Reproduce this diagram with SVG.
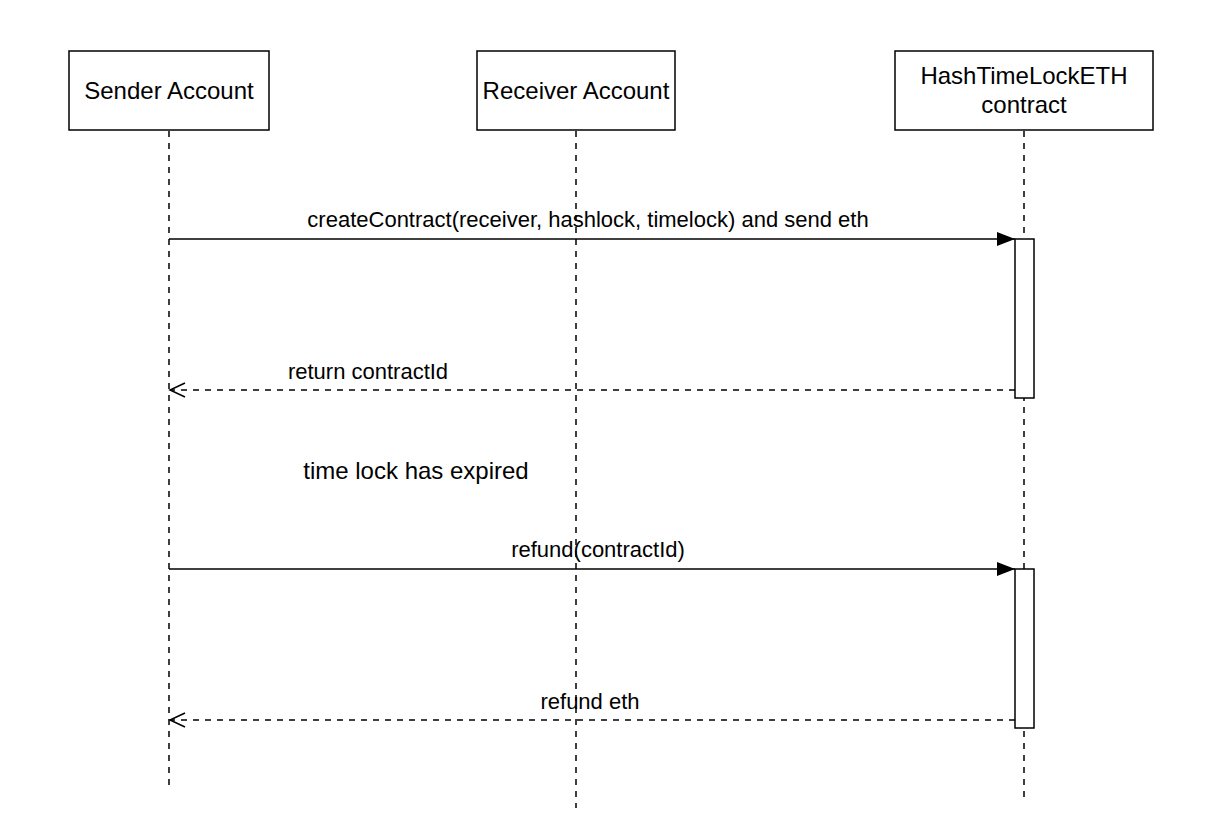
<svg xmlns="http://www.w3.org/2000/svg" width="1208" height="830" viewBox="0 0 1208 830">
<style>
.box{fill:#fff;stroke:#000;stroke-width:1.5}
.life{stroke:#000;stroke-width:1.5;stroke-dasharray:6 6;fill:none}
.msg{stroke:#000;stroke-width:1.5;fill:none}
.ret{stroke:#000;stroke-width:1.5;fill:none;stroke-dasharray:6 6}
.t{font-family:"Liberation Sans",Arial,sans-serif;font-size:24px;fill:#000;text-anchor:middle}
.l{font-family:"Liberation Sans",Arial,sans-serif;font-size:22px;fill:#000;text-anchor:middle}
</style>
<defs>
<marker id="fill" markerWidth="20" markerHeight="16" refX="18" refY="7" orient="auto" markerUnits="userSpaceOnUse">
<path d="M0,0 L18,7 L0,14 Z" fill="#000"/>
</marker>
<marker id="open" markerWidth="20" markerHeight="18" refX="16" refY="8" orient="auto" markerUnits="userSpaceOnUse">
<path d="M1,1 L16,8 L1,15" fill="none" stroke="#000" stroke-width="1.5"/>
</marker>
</defs>
<rect width="1208" height="830" fill="#fff"/>
<g id="lifelines">
<line class="life" x1="169" y1="131" x2="169" y2="786"/>
<line class="life" x1="576" y1="131" x2="576" y2="808"/>
<line class="life" x1="1024" y1="131" x2="1024" y2="798"/>
</g>
<g id="sender">
<rect class="box" x="69" y="51" width="200" height="79"/>
<text class="t" x="169" y="99">Sender Account</text>
</g>
<g id="receiver">
<rect class="box" x="477" y="51" width="198" height="79"/>
<text class="t" x="576" y="99">Receiver Account</text>
</g>
<g id="contract">
<rect class="box" x="895" y="51" width="258" height="79"/>
<text class="t" x="1024" y="84">HashTimeLockETH</text>
<text class="t" x="1024" y="113">contract</text>
</g>
<g id="activation1">
<rect class="box" x="1015" y="239" width="19" height="159"/>
</g>
<g id="activation2">
<rect class="box" x="1015" y="569" width="19" height="159"/>
</g>
<g id="connectors">
<line class="msg" x1="169" y1="239" x2="1015" y2="239" marker-end="url(#fill)"/>
<line class="ret" x1="1015" y1="390" x2="170" y2="390" marker-end="url(#open)"/>
<line class="msg" x1="169" y1="569" x2="1015" y2="569" marker-end="url(#fill)"/>
<line class="ret" x1="1015" y1="720" x2="170" y2="720" marker-end="url(#open)"/>
</g>
<g id="labels">
<text class="l" x="588" y="227">createContract(receiver, hashlock, timelock) and send eth</text>
<text class="l" x="368" y="379">return contractId</text>
<text class="l" x="598" y="557">refund(contractId)</text>
<text class="l" x="590" y="709">refund eth</text>
<text class="t" x="416" y="479">time lock has expired</text>
</g>
</svg>
